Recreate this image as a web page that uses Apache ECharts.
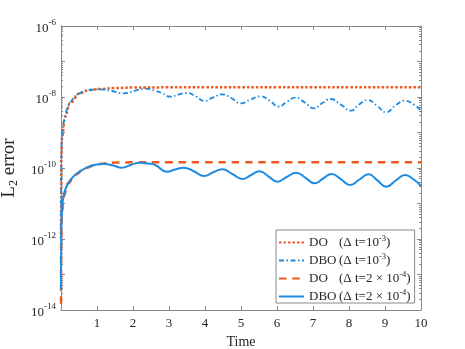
<!DOCTYPE html>
<html><head><meta charset="utf-8">
<script src="https://cdn.jsdelivr.net/npm/echarts@6/dist/echarts.min.js"></script>
<style>html,body{margin:0;padding:0;background:#fff}#c{width:465px;height:349px}</style>
</head><body><div id="c"></div>
<script>
// ---- data ----
const tDO1 = [0, 0.01, 0.03, 0.11, 0.25, 0.53, 0.8, 1.1, 1.5, 2, 3, 4, 5, 6, 7, 8, 9, 10];
const vDO1 = [1e-12, 2e-10, 7.5e-10, 2.73e-9, 6.78e-9, 1.30e-8, 1.575e-8, 1.68e-8, 1.79e-8, 1.85e-8,
  1.87e-8, 1.87e-8, 1.87e-8, 1.87e-8, 1.87e-8, 1.87e-8, 1.87e-8, 1.87e-8];

const tDBO1 = [0, 0.01, 0.03, 0.11, 0.25, 0.53, 0.8, 1.1, 1.41, 1.74,
  2.06, 2.34, 2.62, 2.8, 3.04, 3.27, 3.5, 3.75, 3.98, 4.23,
  4.48, 4.74, 4.99, 5.27, 5.54, 5.8, 6.05, 6.28, 6.52, 6.77,
  7.03, 7.26, 7.49, 7.77, 8.05, 8.28, 8.52, 8.77, 9.03, 9.29,
  9.55, 9.8, 10];
const vDBO1 = [1e-12, 2e-10, 7.5e-10, 2.73e-9, 6.78e-9, 1.30e-8, 1.575e-8, 1.65e-8, 1.476e-8, 1.271e-8,
  1.504e-8, 1.713e-8, 1.504e-8, 1.296e-8, 1.020e-8, 1.176e-8, 1.296e-8, 1.033e-8, 7.71e-9, 9.81e-9,
  1.191e-8, 9.19e-9, 6.65e-9, 8.50e-9, 1.046e-8, 7.82e-9, 5.33e-9, 7.47e-9, 9.56e-9, 7.00e-9,
  4.80e-9, 6.78e-9, 8.78e-9, 6.15e-9, 4.11e-9, 6.15e-9, 8.23e-9, 5.76e-9, 3.71e-9, 5.76e-9,
  7.87e-9, 6.15e-9, 4.11e-9];

const tDO2 = [0, 0.005, 0.02, 0.064, 0.2, 0.39, 0.67, 1.04, 1.5, 2, 3, 4, 5, 6, 7, 8, 9, 10];
const vDO2 = [1.5e-14, 8e-13, 4e-12, 1.5e-11, 3.7e-11, 6.4e-11, 1.0e-10, 1.3e-10, 1.42e-10, 1.447e-10,
  1.447e-10, 1.447e-10, 1.447e-10, 1.447e-10, 1.447e-10, 1.447e-10, 1.447e-10, 1.447e-10];

const tDBO2 = [0, 0.005, 0.02, 0.064, 0.2, 0.39, 0.67, 1.04, 1.23, 1.45,
  1.69, 1.95, 2.2, 2.42, 2.62, 2.94, 3.17, 3.41, 3.7, 3.97,
  4.23, 4.48, 4.76, 5.04, 5.28, 5.51, 5.76, 6.01, 6.27, 6.53,
  6.79, 7.04, 7.28, 7.52, 7.78, 8.03, 8.29, 8.54, 8.79, 9.03,
  9.3, 9.56, 9.8, 10];
const vDBO2 = [3.66e-14, 1.0e-12, 4.25e-12, 1.55e-11, 3.71e-11, 6.35e-11, 9.81e-11, 1.271e-10, 1.296e-10, 1.176e-10,
  1.020e-10, 1.239e-10, 1.411e-10, 1.339e-10, 1.215e-10, 7.87e-11, 9.07e-11, 1.020e-10, 7.97e-11, 5.95e-11,
  7.57e-11, 9.19e-11, 6.78e-11, 4.90e-11, 6.35e-11, 8.07e-11, 5.84e-11, 4.11e-11, 5.58e-11, 7.37e-11,
  5.30e-11, 3.71e-11, 5.06e-11, 6.78e-11, 4.80e-11, 3.32e-11, 4.74e-11, 6.65e-11, 4.50e-11, 2.97e-11,
  4.44e-11, 6.35e-11, 4.74e-11, 3.11e-11];

const seriesNames = ['DO (Δt=10^-3)', 'DBO (Δt=10^-3)', 'DO (Δt=2×10^-4)', 'DBO (Δt=2×10^-4)'];
const legendLabels = [
  ['DO', '(Δ t=10', '-3', ')'],
  ['DBO', '(Δ t=10', '-3', ')'],
  ['DO', '(Δ t=2 × 10', '-4', ')'],
  ['DBO', '(Δ t=2 × 10', '-4', ')']
];
const xTicks = [1, 2, 3, 4, 5, 6, 7, 8, 9, 10];
const yLabelExps = [-14, -12, -10, -8, -6];

// ---- chart ----
const SERIF = '"Liberation Serif", "Times New Roman", serif';
const TXT = '#262626';
const AX = '#8a8a8a';
const ORANGE = '#EE5A1E';
const BLUE = '#1F8BE0';

function pairs(t, v) { return t.map((x, i) => [x, v[i]]); }

const chart = echarts.init(document.getElementById('c'), null, {renderer: 'canvas'});

const xBase = {
  type: 'value', min: 0, max: 10, interval: 1,
  axisLine: {show: true, onZero: false, lineStyle: {color: AX, width: 1}},
  axisTick: {show: true, inside: true, length: 4, lineStyle: {color: AX}},
  splitLine: {show: false}
};
const yBase = {
  type: 'log', logBase: 10, min: 1e-14, max: 1e-6, interval: 1,
  axisLine: {show: true, onZero: false, lineStyle: {color: AX, width: 1}},
  axisTick: {show: true, inside: true, length: 4, lineStyle: {color: AX}},
  minorTick: {show: true, splitNumber: 9, length: 2, lineStyle: {color: AX}},
  splitLine: {show: false}
};

chart.setOption({
  animation: false,
  backgroundColor: '#fff',
  grid: {left: 61, right: 44, top: 26, bottom: 39, containLabel: false, outerBoundsMode: 'none'},
  xAxis: [
    Object.assign({}, xBase, {
      position: 'bottom',
      name: 'Time', nameLocation: 'middle', nameGap: 23,
      nameTextStyle: {fontFamily: SERIF, fontSize: 14, color: TXT},
      axisLabel: {
        show: true, margin: 7, fontFamily: SERIF, fontSize: 13, color: TXT,
        formatter: v => (xTicks.indexOf(v) >= 0 ? String(v) : '')
      }
    }),
    Object.assign({}, xBase, {position: 'top', axisLabel: {show: false}})
  ],
  yAxis: [
    Object.assign({}, yBase, {
      position: 'left',
      name: '{a|L}{b|2}{a| error}', nameLocation: 'middle', nameGap: 37, nameRotate: 90,
      nameTextStyle: {
        fontFamily: SERIF, fontSize: 19, color: TXT,
        rich: {
          a: {fontFamily: SERIF, fontSize: 19, color: TXT},
          b: {fontFamily: SERIF, fontSize: 12, color: TXT, padding: [10, 0, 0, 0]}
        }
      },
      axisLabel: {
        show: true, margin: 5, color: TXT,
        formatter: function (v) {
          const e = Math.round(Math.log10(v));
          return yLabelExps.indexOf(e) >= 0 ? '{b|10}{s|' + e + '}' : '';
        },
        rich: {
          b: {fontFamily: SERIF, fontSize: 13, color: TXT, padding: [9, 0, 3, 0]},
          s: {fontFamily: SERIF, fontSize: 9, color: TXT, padding: [0, 0, 6, 0]}
        }
      }
    }),
    Object.assign({}, yBase, {position: 'right', axisLabel: {show: false}})
  ],
  legend: {
    show: true, orient: 'vertical', left: 276, top: 230,
    padding: [4, 4, 0, 2], itemGap: 3, itemWidth: 25, itemHeight: 14,
    backgroundColor: '#fff', borderColor: '#8a8a8a', borderWidth: 1, borderRadius: 0,
    itemStyle: {opacity: 0},
    data: seriesNames,
    formatter: function (name) {
      const p = legendLabels[seriesNames.indexOf(name)];
      return '{n|' + p[0] + '}{p|' + p[1] + '}{s|' + p[2] + '}{p|' + p[3] + '}';
    },
    textStyle: {
      fontFamily: SERIF, fontSize: 13, color: TXT,
      rich: {
        n: {fontFamily: SERIF, fontSize: 13, color: TXT, width: 30},
        p: {fontFamily: SERIF, fontSize: 13, color: TXT},
        s: {fontFamily: SERIF, fontSize: 8.5, color: TXT, padding: [0, 0, 8, 0]}
      }
    }
  },
  series: [
    {name: seriesNames[0], type: 'line', data: pairs(tDO1, vDO1), symbol: 'none', smooth: 0.4, smoothMonotone: 'x',
      lineStyle: {color: ORANGE, width: 2.5, type: [2.5, 2]}, itemStyle: {color: ORANGE}},
    {name: seriesNames[1], type: 'line', data: pairs(tDBO1, vDBO1), symbol: 'none', smooth: 0.5,
      lineStyle: {color: BLUE, width: 1.8, type: [5, 2.5, 1.5, 2.5]}, itemStyle: {color: BLUE}},
    {name: seriesNames[2], type: 'line', data: pairs(tDO2, vDO2), symbol: 'none', smooth: 0.4, smoothMonotone: 'x',
      lineStyle: {color: ORANGE, width: 2.5, type: [7.5, 5.8]}, itemStyle: {color: ORANGE}},
    {name: seriesNames[3], type: 'line', data: pairs(tDBO2, vDBO2), symbol: 'none', smooth: 0.5,
      lineStyle: {color: BLUE, width: 2, type: 'solid'}, itemStyle: {color: BLUE}}
  ]
});
</script>
</body></html>
